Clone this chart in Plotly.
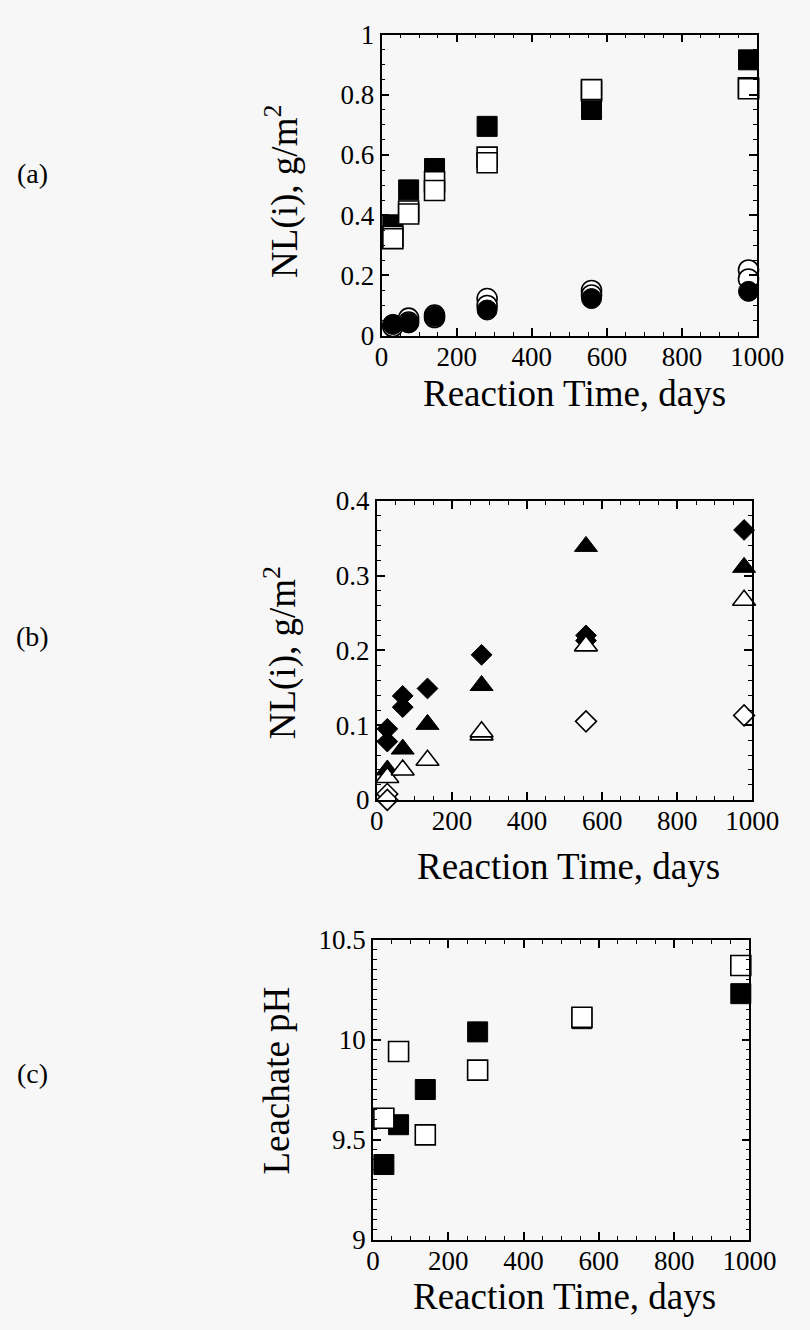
import plotly.graph_objects as go

# ---------------- data ----------------
# Panel (a): normalized loss NL(i), g/m^2
days_a = [30, 72, 141, 281, 559, 977]
a_filled_sq = [0.368, 0.484, 0.555, 0.695, 0.751, 0.916]
a_open_sq1 = [0.322, 0.404, 0.482, 0.574, 0.817, 0.820]
a_open_sq2 = [0.330, 0.414, 0.511, 0.593, 0.812, 0.823]
a_open_c1 = [0.035, 0.058, 0.068, 0.123, 0.150, 0.218]
a_open_c2 = [0.030, 0.045, 0.060, 0.100, 0.135, 0.188]
a_filled_c = [0.037, 0.042, 0.064, 0.085, 0.123, 0.147]

# Panel (b)
days_b = [28, 69, 135, 279, 557, 978]
b_filled_d1 = [0.095, 0.139, 0.149, 0.194, 0.220, 0.361]
b_filled_d2 = [0.078, 0.124, None, None, 0.213, None]
b_open_d1 = [0.000, None, None, None, 0.105, 0.113]
b_open_d2 = [0.008, None, None, None, None, None]
b_filled_t = [0.040, 0.068, 0.101, 0.153, 0.339, 0.311]
b_open_t1 = [0.030, 0.040, 0.053, 0.091, 0.206, 0.267]
b_open_t2 = [None, None, None, 0.087, None, None]

# Panel (c): leachate pH
days_c = [29, 68, 139, 278, 555, 977]
c_filled_sq = [9.376, 9.575, 9.751, 10.039, 10.105, 10.230]
c_open_sq = [9.607, 9.941, 9.524, 9.848, 10.112, 10.371]

FONT = "Liberation Serif"
BG = "#f7f7f7"
W, H = 810, 1330


def px(x):
    return x / W


def py(y):
    return 1 - y / H


fig = go.Figure()


def add(x, y, sym, filled, size, axis):
    fig.add_trace(go.Scatter(
        x=x, y=y, mode="markers", xaxis="x" + axis, yaxis="y" + axis,
        cliponaxis=False, showlegend=False, hoverinfo="skip",
        marker=dict(symbol=sym, size=size,
                    color="black" if filled else "white",
                    line=dict(color="black", width=1 if filled else 1.6)),
    ))


# panel a
add(days_a, a_filled_sq, "square", True, 20, "")
add(days_a, a_open_sq2, "square", False, 20, "")
add(days_a, a_open_sq1, "square", False, 20, "")
add(days_a, a_open_c1, "circle", False, 20, "")
add(days_a, a_open_c2, "circle", False, 20, "")
add(days_a, a_filled_c, "circle", True, 20, "")

# panel b
add(days_b, b_filled_d2, "diamond", True, 16, "2")
add(days_b, b_filled_d1, "diamond", True, 16, "2")
add(days_b, b_filled_t, "triangle-up", True, 20, "2")
add(days_b, b_open_t2, "triangle-up", False, 20, "2")
add(days_b, b_open_t1, "triangle-up", False, 20, "2")
add(days_b, b_open_d2, "diamond", False, 16, "2")
add(days_b, b_open_d1, "diamond", False, 16, "2")

# panel c
add(days_c, c_filled_sq, "square", True, 20, "3")
add(days_c, c_open_sq, "square", False, 20, "3")

tickfont = dict(family=FONT, size=27, color="black")


def xax(dom, anchor):
    return dict(domain=dom, anchor=anchor, range=[0, 1000], tick0=0, dtick=200,
                ticks="inside", ticklen=8, tickwidth=1.5, tickcolor="black",
                minor=dict(dtick=50, ticklen=4, tickwidth=1.2, tickcolor="black", ticks="inside"),
                showline=True, linewidth=1.8, linecolor="black", mirror="ticks",
                showgrid=False, zeroline=False, tickfont=tickfont,
                ticklabelstandoff=-4)


def yax(dom, anchor, rng, dtick, mdtick):
    return dict(domain=dom, anchor=anchor, range=rng, tick0=rng[0], dtick=dtick,
                ticks="inside", ticklen=8, tickwidth=1.5, tickcolor="black",
                minor=dict(dtick=mdtick, ticklen=4, tickwidth=1.2, tickcolor="black", ticks="inside"),
                showline=True, linewidth=1.8, linecolor="black", mirror="ticks",
                showgrid=False, zeroline=False, tickfont=tickfont)


fig.update_layout(
    width=W, height=H, margin=dict(l=0, r=0, t=0, b=0),
    paper_bgcolor=BG, plot_bgcolor=BG,
    font=dict(family=FONT, color="black"),
    xaxis=xax([px(391), px(783)], "y"),
    yaxis=yax([py(328), py(20)], "x", [0, 1], 0.2, 0.05),
    xaxis2=xax([px(386), px(778)], "y2"),
    yaxis2=yax([py(803), py(497)], "x2", [0, 0.4], 0.1, 0.02),
    xaxis3=xax([px(382), px(775)], "y3"),
    yaxis3=yax([py(1253), py(946)], "x3", [9, 10.5], 0.5, 0.05),
)

titlefont = dict(family=FONT, size=37, color="black")
labfont = dict(family=FONT, size=28, color="black")
ann = [
    # x titles
    dict(text="Reaction Time, days", x=px(592), y=py(387), font=titlefont),
    dict(text="Reaction Time, days", x=px(586), y=py(871), font=titlefont),
    dict(text="Reaction Time, days", x=px(582), y=py(1311), font=titlefont),
    # y titles
    dict(text="NL(i), g/m<sup>2</sup>", x=px(287), y=py(180), font=titlefont, textangle=-90),
    dict(text="NL(i), g/m<sup>2</sup>", x=px(286), y=py(652), font=titlefont, textangle=-90),
    dict(text="Leachate pH", x=px(281), y=py(1090), font=titlefont, textangle=-90),
    # panel labels
    dict(text="(a)", x=px(27), y=py(162), font=labfont),
    dict(text="(b)", x=px(27), y=py(636), font=labfont),
    dict(text="(c)", x=px(27), y=py(1083), font=labfont),
]
for a in ann:
    a.update(xref="paper", yref="paper", showarrow=False, xanchor="center", yanchor="middle")
fig.update_layout(annotations=ann)

fig.write_html(
    "out.html",
    config={"displayModeBar": False},
    post_script="document.body.style.margin='0';document.body.style.background='#f7f7f7';",
)
